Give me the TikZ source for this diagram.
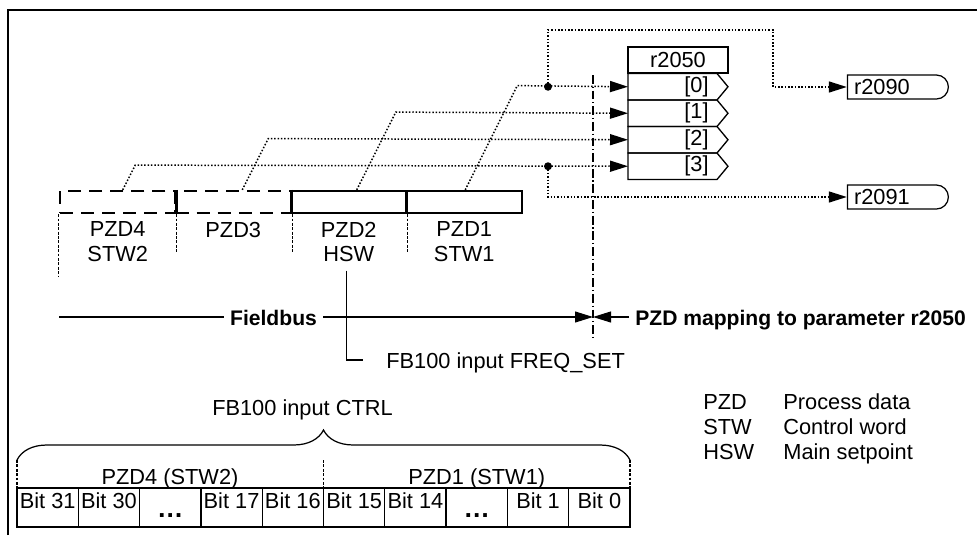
\documentclass[tikz,border=0pt]{standalone}
\usepackage{fontspec}
\setmainfont{Liberation Sans}
\usetikzlibrary{arrows.meta,shapes.misc,decorations.pathreplacing}
\newcommand{\bitdots}{\raisebox{-0.18cm}{\fontsize{15}{15}\selectfont\bfseries …}}

\begin{document}
\begin{tikzpicture}[x=0.02cm,y=-0.02cm,
  font=\fontsize{12.4}{14.2}\selectfont,
  every node/.style={inner sep=0pt},
  frameline/.style={line width=1.7pt},
  pzdbox/.style={draw,line width=1.3pt,minimum width=2.31cm,minimum height=0.44cm},
  pzddash/.style={pzdbox,dash pattern=on 7.4pt off 4.6pt},
  gridline/.style={line width=0.6pt,dash pattern=on 1.6pt off 0.9pt},
  sepline/.style={line width=0.6pt,dash pattern=on 5pt off 1.6pt on 0.7pt off 1.6pt},
  sig/.style={line width=0.85pt,dash pattern=on 0.85pt off 1.05pt,-{Triangle[length=0.36cm,width=0.22cm]}},
  bus/.style={line width=0.6pt},
  busbox/.style={font=\fontsize{12}{14.2}\selectfont\bfseries,inner xsep=0.12cm},
  parbox/.style={draw,line width=1.4pt,minimum width=2cm,minimum height=0.52cm},
  rowline/.style={line width=0.75pt},
  outbox/.style={draw,line width=0.7pt,rounded rectangle,rounded rectangle left arc=none,
    minimum width=2.02cm,minimum height=0.48cm,text width=1.7cm,align=left},
  bitcell/.style={draw,line width=0.7pt,minimum width=1.226cm,text height=0.4cm,text depth=0.38cm}]
  \useasboundingbox (0,0) rectangle (977,541);
  \draw[frameline] (8,535) -- (8,10) -- (977,10);

  % process data words
  \node[pzddash] (pzd4) at (117.75,202) {};
  \node[pzddash] (pzd3) at (233.25,202) {};
  \node[pzdbox] (pzd2) at (348.75,202) {};
  \node[pzdbox] (pzd1) at (464.25,202) {};
  \draw[line width=1.3pt] (pzd4.north east) -- (pzd4.south east);
  \draw[line width=1.3pt] (pzd3.north east) -- (pzd3.south east);
  \node[align=center] (lbl4) at (117.75,242) {PZD4\\STW2};
  \node (lbl3) at (233.25,229.5) {PZD3};
  \node[align=center] (lbl2) at (348.75,242) {PZD2\\HSW};
  \node[align=center] (lbl1) at (464.25,242) {PZD1\\STW1};
  \draw[gridline] (pzd4.south west) -- ++(0,62);
  \foreach \w in {pzd4,pzd3,pzd2}
    \draw[gridline] (\w.south east) -- ++(0,38);

  % parameter r2050
  \node[parbox] (r2050) at (678,60) {r2050};
  \foreach \i in {0,...,3}{
    \pgfmathsetmacro\ytop{73.5+26.5*\i}
    \draw[rowline] (628,\ytop) -- ++(89,0) -- ++(11,13.25) -- ++(-11,13.25) -- ++(-89,0) -- cycle;
    \coordinate (in\i) at (628,\ytop+13.25);
    \node[anchor=east] (idx\i) at (709,\ytop+13.25) {[\i]};
  }

  \coordinate (sepT) at (593,75);
  \coordinate (sep) at (593,317);
  \coordinate (sepB) at (593,338);
  \draw[sepline] (sepT) -- (sepB);

  % mapping
  \draw[sig] ([shift={(1,0)}]pzd1.north) -- ++(52,-104.25) -- (in0);
  \draw[sig] ([shift={(8,0)}]pzd2.north) -- ++(39,-77.75) -- (in1);
  \draw[sig] ([shift={(9,0)}]pzd3.north) -- ++(26,-51.25) -- (in2);
  \draw[sig] ([shift={(5,0)}]pzd4.north) -- ++(12.5,-24.75) -- (in3);

  \node[outbox] (r2090) at (896.5,87) {r2090};
  \node[outbox] (r2091) at (896.5,197) {r2091};
  \coordinate (tap0) at (548,86.75);
  \coordinate (tap3) at (548,166.25);
  \fill (tap0) circle[radius=4];
  \fill (tap3) circle[radius=4];
  \draw[sig] (tap0) -- (548,30) -- (773,30) |- (r2090.west);
  \draw[sig] (tap3) |- (r2091.west);

  % fieldbus
  \coordinate (busL) at (59,317);
  \node[busbox,anchor=base] (fb) at (273.5,325) {Fieldbus};
  \node[busbox,anchor=base west] (pzdmap) at (629,325) {PZD mapping to parameter r2050};
  \draw[bus] (busL) -- (fb.west |- busL);
  \draw[bus,-{Triangle[length=0.36cm,width=0.22cm]}] (fb.east |- sep) -- (sep);
  \draw[bus,-{Triangle[length=0.36cm,width=0.22cm]}] (pzdmap.west |- sep) -- (sep);

  \node[anchor=base west] (freq) at (386,368) {FB100 input FREQ\_SET};
  \coordinate (freqend) at (363,360);
  \draw[line width=0.8pt] ([shift={(-2,8)}]lbl2.south) |- (freqend);

  % control word bits
  \node[anchor=base] (ctrl) at (302.5,415) {FB100 input CTRL};
  \coordinate (brL) at (17,460);
  \coordinate (brM) at (323.5,460);
  \coordinate (brR) at (630,460);
  \draw[line width=0.7pt,decorate,decoration={brace,amplitude=0.6cm}] (brL) -- (brR);
  \foreach \c in {brL,brM,brR}
    \draw[gridline] (\c) -- ++(0,28);
  \node (stw2) at (170,479) {PZD4 (STW2)};
  \node (stw1) at (476.75,479) {PZD1 (STW1)};
  \foreach \b [count=\k from 0] in {Bit 31,Bit 30,\bitdots,Bit 17,Bit 16,Bit 15,Bit 14,\bitdots,Bit 1,Bit 0}
    \node[bitcell] (bit\k) at ({17+61.3*(\k+0.5)},507.5) {\b};

  % legend
  \foreach \a/\t [count=\k from 0] in {PZD/Process data,STW/Control word,HSW/Main setpoint}{
    \node[anchor=base west] (abbr\k) at (703,{409+25*\k}) {\a};
    \node[anchor=base west] (expl\k) at (783,{409+25*\k}) {\t};
  }
\end{tikzpicture}
\end{document}
